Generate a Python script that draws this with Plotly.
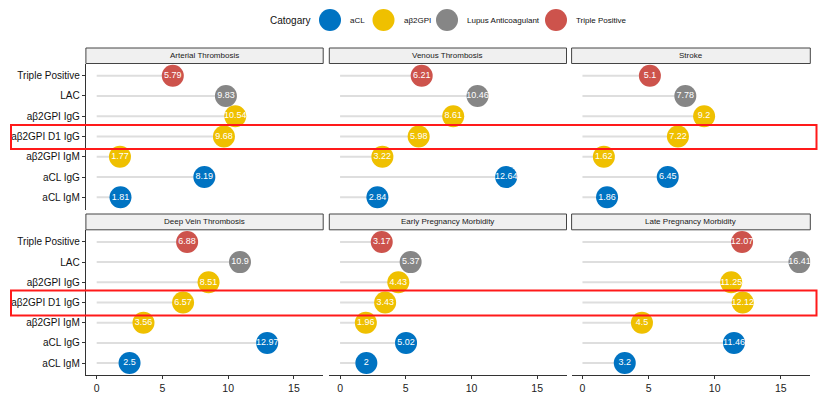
import plotly.graph_objects as go

W, H = 831, 395

# ---- data ----
categories = ["Triple Positive", "LAC", "aβ2GPI IgG", "aβ2GPI D1 IgG",
              "aβ2GPI IgM", "aCL IgG", "aCL IgM"]          # top -> bottom
groups = ["Triple Positive", "Lupus Anticoagulant", "aβ2GPI", "aβ2GPI",
          "aβ2GPI", "aCL", "aCL"]
panels = ["Arterial Thrombosis", "Venous Thrombosis", "Stroke",
          "Deep Vein Thrombosis", "Early Pregnancy Morbidity", "Late Pregnancy Morbidity"]
arterial = [5.79, 9.83, 10.54, 9.68, 1.77, 8.19, 1.81]
venous = [6.21, 10.46, 8.61, 5.98, 3.22, 12.64, 2.84]
stroke = [5.1, 7.78, 9.2, 7.22, 1.62, 6.45, 1.86]
dvt = [6.88, 10.9, 8.51, 6.57, 3.56, 12.97, 2.5]
early_pm = [3.17, 5.37, 4.43, 3.43, 1.96, 5.02, 2]
late_pm = [12.07, 16.41, 11.25, 12.12, 4.5, 11.46, 3.2]
panel_values = [arterial, venous, stroke, dvt, early_pm, late_pm]
legend_order = ["aCL", "aβ2GPI", "Lupus Anticoagulant", "Triple Positive"]
x_ticks = [0, 5, 10, 15]

colors = {"aCL": "#0073C2", "aβ2GPI": "#EFC000",
          "Lupus Anticoagulant": "#868686", "Triple Positive": "#CD534C"}

FONT = "Liberation Sans, Arial, sans-serif"


def px(xp):
    return xp / W


def py(yp):
    return 1 - yp / H


col_px = [(85.9, 323.2), (329.3, 566.5), (571.6, 810.3)]
row_px = [(63.5, 209.5), (229.8, 375.2)]
strip_px = [(48, 63.5), (214, 229.8)]

fig = go.Figure()
layout_axes = {}
shapes = []
annotations = []

ymax_val = max(max(v) for v in panel_values)
xr = [-0.05 * ymax_val, ymax_val * 1.05]

for i, (name, vals) in enumerate(zip(panels, panel_values)):
    r, c = divmod(i, 3)
    k = i + 1
    xa = "x" if k == 1 else f"x{k}"
    ya = "y" if k == 1 else f"y{k}"
    # segments
    sx, sy = [], []
    for cat, v in zip(categories, vals):
        sx += [0, v, None]
        sy += [cat, cat, None]
    fig.add_trace(go.Scatter(x=sx, y=sy, mode="lines", xaxis=xa, yaxis=ya,
                             line=dict(color="#dedede", width=2),
                             hoverinfo="skip", showlegend=False))
    # points per group
    for g in legend_order:
        gx = [v for v, gg in zip(vals, groups) if gg == g]
        gy = [cat for cat, gg in zip(categories, groups) if gg == g]
        fig.add_trace(go.Scatter(
            x=gx, y=gy, mode="markers+text", xaxis=xa, yaxis=ya,
            marker=dict(size=22, color=colors[g], line=dict(width=0)),
            text=[f"{v:g}" for v in gx], textposition="middle center",
            textfont=dict(color="white", size=9, family=FONT),
            name=g, showlegend=False))

    x0, x1 = col_px[c]
    ytop, ybot = row_px[r]
    layout_axes["xaxis" if k == 1 else f"xaxis{k}"] = dict(
        domain=[px(x0), px(x1)], anchor=ya, range=xr,
        tickvals=x_ticks, showgrid=False, zeroline=False,
        showticklabels=(r == 1), showline=(r == 1),
        linecolor="#333333", linewidth=1.3,
        ticks="outside" if r == 1 else "", ticklen=3, tickcolor="#333333",
        ticklabelstandoff=0,
        tickfont=dict(size=10.5, color="#222222", family=FONT))
    layout_axes["yaxis" if k == 1 else f"yaxis{k}"] = dict(
        domain=[py(ybot), py(ytop)], anchor=xa, type="category",
        categoryorder="array", categoryarray=categories[::-1],
        range=[-0.6, 6.6], showgrid=False, zeroline=False,
        showticklabels=(c == 0), showline=(c == 0),
        linecolor="#333333", linewidth=1.3,
        ticks="outside" if c == 0 else "", ticklen=3, tickcolor="#333333",
        tickfont=dict(size=10, color="#111111", family=FONT))
    # strip
    s0, s1 = strip_px[r]
    shapes.append(dict(type="rect", xref="paper", yref="paper",
                       x0=px(x0), x1=px(x1), y0=py(s1), y1=py(s0),
                       fillcolor="#f0f0f0", line=dict(color="#444444", width=1)))
    annotations.append(dict(text=name, xref="paper", yref="paper",
                            x=px((x0 + x1) / 2), y=py((s0 + s1) / 2),
                            showarrow=False, xanchor="center", yanchor="middle",
                            font=dict(size=8, color="#1a1a1a", family=FONT)))

# highlight boxes around aβ2GPI D1 IgG rows
for (y0p, y1p) in [(125, 149), (290.5, 315.5)]:
    shapes.append(dict(type="rect", xref="paper", yref="paper",
                       x0=px(11), x1=px(816.5), y0=py(y1p), y1=py(y0p),
                       line=dict(color="#ff1a1a", width=2), fillcolor="rgba(0,0,0,0)"))

# legend (drawn manually for large keys)
annotations.append(dict(text="Catogary", xref="paper", yref="paper",
                        x=px(313), y=py(20), showarrow=False,
                        xanchor="right", yanchor="middle",
                        font=dict(size=10, color="#111111", family=FONT)))
leg_centres = [330, 383.5, 447, 556]
for g, cx in zip(legend_order, leg_centres):
    shapes.append(dict(type="circle", xref="paper", yref="paper",
                       x0=px(cx - 11), x1=px(cx + 11), y0=py(31), y1=py(9),
                       fillcolor=colors[g], line=dict(width=0)))
    annotations.append(dict(text=g, xref="paper", yref="paper",
                            x=px(cx + 18), y=py(20), showarrow=False,
                            xanchor="left", yanchor="middle",
                            font=dict(size=8, color="#111111", family=FONT)))

fig.update_layout(width=W, height=H, margin=dict(l=0, r=0, t=0, b=0),
                  paper_bgcolor="white", plot_bgcolor="white",
                  showlegend=False, shapes=shapes, annotations=annotations,
                  font=dict(family=FONT), **layout_axes)

fig.write_html("out.html", config={"displayModeBar": False},
               post_script="document.body.style.margin='0px';document.body.style.overflow='hidden';")
